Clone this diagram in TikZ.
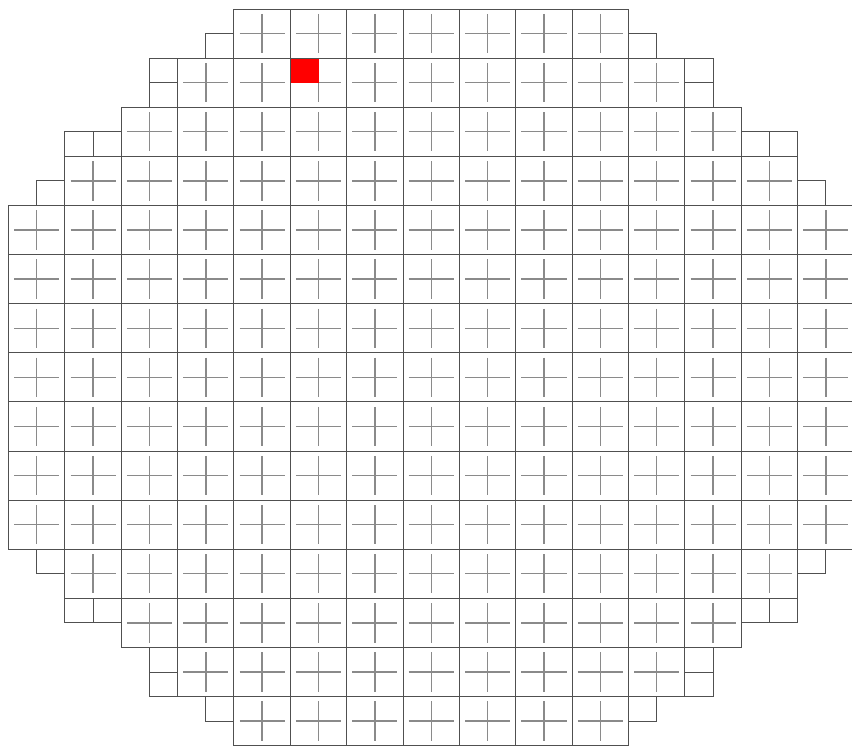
\documentclass[tikz,border=0pt]{standalone}
\usepackage{tikz}
\definecolor{dieline}{HTML}{505050}
\definecolor{crossgray}{HTML}{8A8A8A}
\definecolor{hitred}{HTML}{FF0000}

\begin{document}
\begin{tikzpicture}[x=0.02cm,y=-0.02cm,die/.style={draw=dieline,line width=0.55pt},crossline/.style={draw=crossgray,line width=0.8pt},hit/.style={fill=hitred}]
\clip (0,0) rectangle (852,747);
\def\diew{56.37}\def\dieh{49.11}
% crosses of the full dies: row/first column/last column
\foreach \r/\a/\b in {0/4/10,1/3/11,2/2/12,3/1/13,4/0/14,5/0/14,6/0/14,7/0/14,8/0/14,9/0/14,10/0/14,11/1/13,12/2/12,13/3/11,14/4/10}{
  \foreach \c in {\a,...,\b}{
    \draw[crossline] ({8.5+(\c+0.1)*\diew},{9+(\r+0.5)*\dieh}) -- ++({0.8*\diew},0);
    \draw[crossline] ({8.5+(\c+0.5)*\diew},{9+(\r+0.1)*\dieh}) -- ++(0,{0.8*\dieh});
  }
}
% marked sub-die
\fill[hit] ({8.5+10*\diew/2},{9+2*\dieh/2}) rectangle ++({\diew/2},{\dieh/2});
% full dies
\foreach \r/\a/\b in {0/4/10,1/3/11,2/2/12,3/1/13,4/0/14,5/0/14,6/0/14,7/0/14,8/0/14,9/0/14,10/0/14,11/1/13,12/2/12,13/3/11,14/4/10}{
  \foreach \c in {\a,...,\b}{
    \draw[die] ({8.5+\c*\diew},{9+\r*\dieh}) rectangle ++(\diew,\dieh);
  }
}
% edge sub-dies
\foreach \sx/\sy in {7/1,22/1,5/2,5/3,24/2,24/3,2/5,3/5,26/5,27/5,1/7,28/7,1/22,28/22,2/24,3/24,26/24,27/24,5/26,5/27,24/26,24/27,7/28,22/28}{
  \draw[die] ({8.5+\sx*\diew/2},{9+\sy*\dieh/2}) rectangle ++({\diew/2},{\dieh/2});
}
\end{tikzpicture}
\end{document}
